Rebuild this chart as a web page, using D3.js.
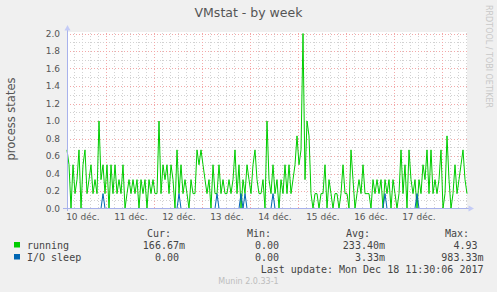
<!DOCTYPE html>
<html><head><meta charset="utf-8">
<script src="https://cdn.jsdelivr.net/npm/d3@7"></script>
<style>body{margin:0;background:#f0f0f0;overflow:hidden}</style>
</head><body><svg id="c" width="497" height="292"></svg>
<script>
const title = "VMstat - by week";
const yLabel = "process states";
const dayLabels = ["10 déc.","11 déc.","12 déc.","13 déc.","14 déc.","15 déc.","16 déc.","17 déc."];
const yTicks = [0,0.2,0.4,0.6,0.8,1.0,1.2,1.4,1.6,1.8,2.0];
const yMinorTicks = [0.1,0.3,0.5,0.7,0.9,1.1,1.3,1.5,1.7,1.9];
// hourly samples, starting 10 Dec 2017 04:20
const running = [
0.67,0.5,0,0.5,0.17,0.33,0.67,0,0.5,0.67,
0.17,0.33,0.5,0.17,0.33,0.17,1.0,0.33,0.5,0.17,
0.5,0,0.5,0.17,0.5,0.17,0.33,0.17,0.5,0,
0.17,0.33,0.17,0.33,0.17,0.33,0,0.33,0.17,0.33,
0,0.33,0.17,0.33,0.17,0.17,1.0,0.17,0.5,0.33,
0.5,0.17,0.5,0.33,0,0.67,0.17,0.5,0.17,0.33,
0.17,0,0.33,0.17,0.17,0.67,0.5,0.67,0.5,0.33,
0.17,0.33,0,0.5,0.17,0.17,0.5,0.17,0.33,0.17,
0.17,0.33,0.17,0.33,0.67,0.17,0.5,0,0.33,0.17,
0.5,0.33,0.17,0.5,0.67,0.33,0.17,0.17,0.33,0,
1.0,0.33,0.17,0.5,0.17,0.33,0,0.33,0.17,0.5,
0.17,0.5,0.17,0.33,0.5,0.83,0.5,0.67,2.0,0.33,
1.0,0.83,0.17,0,0.17,0.17,0,0.17,0.17,0.5,
0,0.33,0.17,0,0.17,0.17,0,0.17,0.5,0.17,
0.17,0,0.67,0.33,0,0.17,0.33,0.17,0.5,0.17,
0.17,0.17,0,0.33,0.17,0.33,0.17,0.33,0,0.33,
0.17,0.33,0,0.33,0.17,0,0.17,0.67,0.17,0.5,
0,0.67,0.33,0.17,0.33,0,0.33,0.17,0.5,0.33,
0.67,0.17,0.67,0.17,0.33,0.17,0.33,0.67,0,0.17,
0.83,0.33,0,0.17,0.5,0.17,0.33,0.5,0.67,0.33,
0.17
];
const ioSleep = [
0,0,0,0,0,0,0,0,0,0, 0,0,0,0,0,0,0,0,0.17,0,
0,0,0,0,0,0,0,0,0,0, 0,0,0,0,0,0,0,0,0,0,
0,0,0,0,0,0,0,0,0,0, 0,0,0,0,0,0,0.17,0,0,0,
0,0,0,0,0,0,0,0,0,0, 0,0,0,0,0,0.17,0,0,0,0,
0,0,0,0,0,0,0,0.17,0,0.17, 0,0,0,0,0,0,0,0,0,0,
0,0,0,0.17,0,0,0,0,0,0, 0,0,0,0,0,0,0,0,0,0,
0,0,0,0,0,0,0,0,0,0, 0,0,0,0,0,0,0,0,0,0,
0,0,0,0,0,0,0,0,0,0, 0,0,0,0,0,0,0,0,0,0.17,
0,0,0,0,0,0,0,0,0,0, 0,0,0,0,0,0.17,0,0,0,0,
0,0,0,0,0,0,0,0,0,0, 0,0,0,0,0,0,0,0,0,0,
0
];
const seriesNames = ["running","I/O sleep"];
const seriesColors = ["#00cc00","#0066b3"];
const legendHeaders = ["Cur:","Min:","Avg:","Max:"];
const legendValues = [
  ["166.67m","0.00","233.40m","4.93"],
  ["0.00","0.00","3.33m","983.33m"]
];
const lastUpdate = "Last update: Mon Dec 18 11:30:06 2017";
const footer = "Munin 2.0.33-1";
const sideText = "RRDTOOL / TOBI OETIKER";

const startTime = new Date(2017,11,10,4,20);
const endTime = new Date(2017,11,18,12,20);
const HOUR = 3600000;

const svg = d3.select("#c");
const x = d3.scaleTime().domain([startTime,endTime]).range([67,467]);
const y = d3.scaleLinear().domain([0,2]).range([208.5,33.5]);

svg.append("rect").attr("width",497).attr("height",292).attr("fill","#f0f0f0");
svg.append("rect").attr("x",67).attr("y",32).attr("width",400).attr("height",176.5).attr("fill","#ffffff");

// grid
const g = svg.append("g");
const minorTimes = x.ticks(d3.timeHour.every(4)).filter(d=>d.getHours()!==0);
const dayTimes = x.ticks(d3.timeDay.every(1));
g.selectAll(".vmin").data(minorTimes).join("line")
  .attr("x1",d=>Math.round(x(d))+0.5).attr("x2",d=>Math.round(x(d))+0.5)
  .attr("y1",33).attr("y2",208).attr("stroke","#d2d2d2").attr("stroke-dasharray","1,2");
g.selectAll(".hmin").data(yMinorTicks).join("line")
  .attr("x1",67).attr("x2",467).attr("y1",d=>Math.round(y(d))+0.5).attr("y2",d=>Math.round(y(d))+0.5)
  .attr("stroke","#d2d2d2").attr("stroke-dasharray","1,2");
g.selectAll(".vmaj").data(dayTimes).join("line")
  .attr("x1",d=>Math.round(x(d))+0.5).attr("x2",d=>Math.round(x(d))+0.5)
  .attr("y1",33).attr("y2",208).attr("stroke","#f3a8a8").attr("stroke-dasharray","1,2");
g.selectAll(".hmaj").data(yTicks.filter(v=>v>0)).join("line")
  .attr("x1",67).attr("x2",467).attr("y1",d=>Math.round(y(d))+0.5).attr("y2",d=>Math.round(y(d))+0.5)
  .attr("stroke","#f3a8a8").attr("stroke-dasharray","1,2");

// series
const line = d3.line().x((d,i)=>x(new Date(startTime.getTime()+i*HOUR))).y(d=>y(d));
[running, ioSleep].forEach((s,k)=>{
  svg.append("path").datum(s).attr("d",line).attr("fill","none")
    .attr("stroke",seriesColors[k]).attr("stroke-width",1);
});

// axes lines + arrows
svg.append("line").attr("x1",67.5).attr("x2",67.5).attr("y1",211).attr("y2",28).attr("stroke","#a8b2ec");
svg.append("line").attr("x1",63).attr("x2",469).attr("y1",208.5).attr("y2",208.5).attr("stroke","#a8b2ec");
svg.append("path").attr("d","M64.5,30.5L70.5,30.5L67.5,25Z").attr("fill","#c4cbf6");
svg.append("path").attr("d","M468.5,205.5L468.5,211.5L474,208.5Z").attr("fill","#c4cbf6");

// axes labels
const ya = svg.append("g").attr("transform","translate(67,0)")
  .call(d3.axisLeft(y).tickValues(yTicks).tickFormat(d3.format(".1f")).tickSize(0).tickPadding(7));
ya.select(".domain").remove();
ya.selectAll("text").attr("font-family","DejaVu Sans").attr("font-size",9).attr("fill","#555");

const labelDates = dayLabels.map((t,i)=>new Date(2017,11,10+i,12));
const xa = svg.append("g").attr("transform","translate(0,208)")
  .call(d3.axisBottom(x).tickValues(labelDates).tickFormat((d,i)=>dayLabels[i]).tickSize(0).tickPadding(5.5));
xa.select(".domain").remove();
xa.selectAll("text").attr("font-family","DejaVu Sans").attr("font-size",9).attr("fill","#555");

// title & labels
svg.append("text").attr("x",248.5).attr("y",17).attr("text-anchor","middle")
  .attr("font-family","DejaVu Sans").attr("font-size",12.5).attr("fill","#555").text(title);
svg.append("text").attr("transform","translate(15,119) rotate(-90)").attr("text-anchor","middle")
  .attr("font-family","DejaVu Sans").attr("font-size",11.5).attr("fill","#555").text(yLabel);
svg.append("text").attr("transform","translate(485.5,5) rotate(90)")
  .attr("font-family","DejaVu Sans").attr("font-size",8).attr("fill","#c8c8c8").text(sideText);

// legend
const mono = "DejaVu Sans Mono";
const headerRight = [171,271,370,469];
const valueRight = [185,285,385,483.5];
legendHeaders.forEach((h,i)=>{
  svg.append("text").attr("x",headerRight[i]).attr("y",237).attr("text-anchor","end")
    .attr("font-family",mono).attr("font-size",10).attr("fill","#444").text(h);
});
seriesNames.forEach((n,k)=>{
  const by = 249 + k*12;
  svg.append("rect").attr("x",14).attr("y",by-7).attr("width",6).attr("height",5.5).attr("fill",seriesColors[k]);
  svg.append("text").attr("x",27).attr("y",by).attr("font-family",mono).attr("font-size",10).attr("fill","#444").text(n);
  legendValues[k].forEach((v,i)=>{
    svg.append("text").attr("x",valueRight[i]).attr("y",by).attr("text-anchor","end")
      .attr("font-family",mono).attr("font-size",10).attr("fill","#444")
      .text(/\d$/.test(v) ? v+"\u00a0" : v);
  });
});
svg.append("text").attr("x",483.5).attr("y",273).attr("text-anchor","end")
  .attr("font-family",mono).attr("font-size",10).attr("fill","#444").text(lastUpdate);
svg.append("text").attr("x",248.5).attr("y",283.5).attr("text-anchor","middle")
  .attr("font-family","DejaVu Sans").attr("font-size",8).attr("fill","#bdbdbd").text(footer);
</script></body></html>
